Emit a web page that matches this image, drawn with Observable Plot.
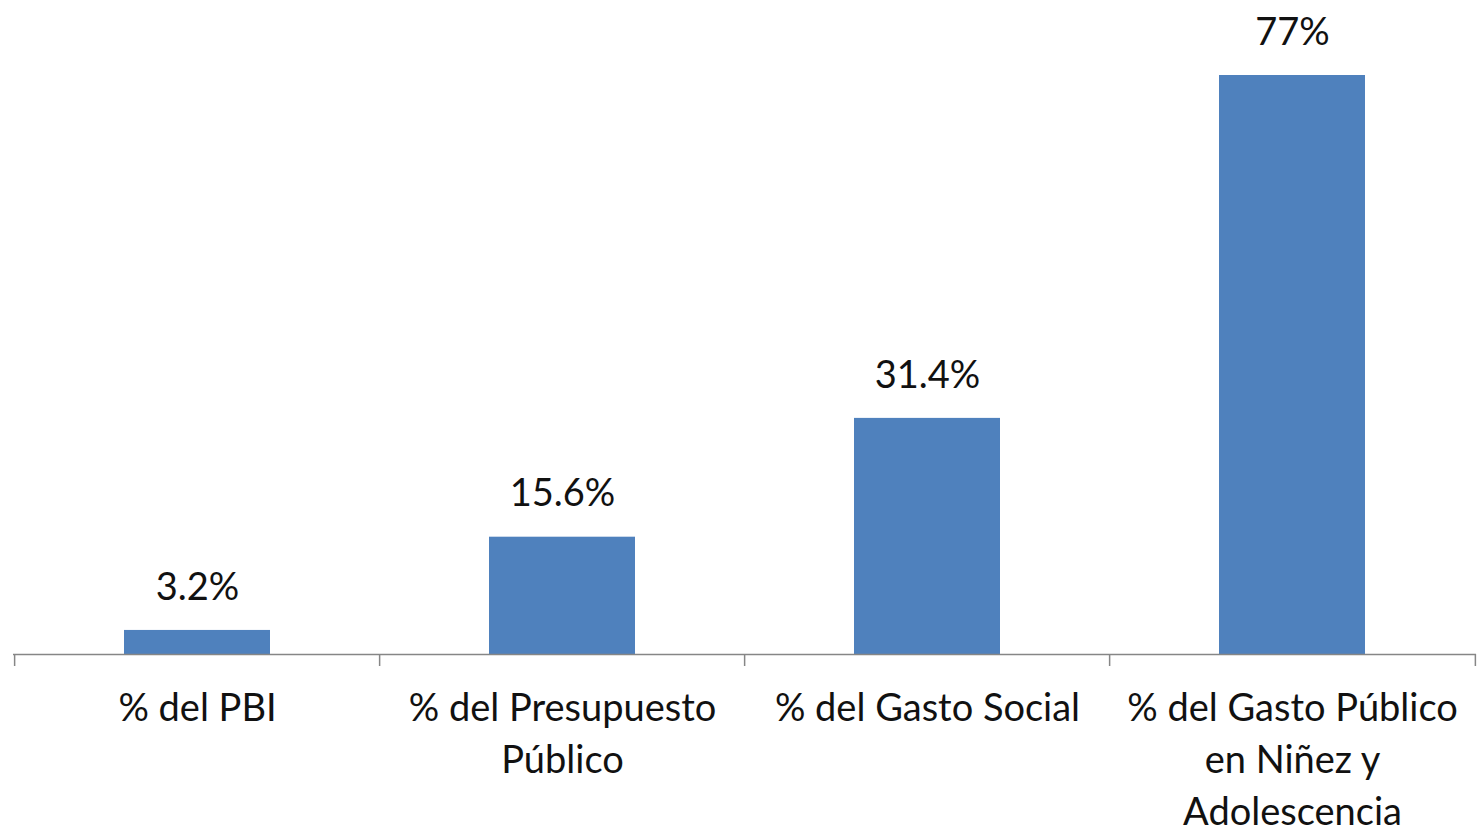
<!DOCTYPE html>
<html>
<head>
<meta charset="utf-8">
<script src="https://cdn.jsdelivr.net/npm/d3@7"></script>
<script src="https://cdn.jsdelivr.net/npm/@observablehq/plot@0.6"></script>
<style>
  html, body { margin: 0; padding: 0; background: #fff; }
  #chart svg { display: block; }
</style>
</head>
<body>
<div id="chart"></div>
<script>
const categories = ["% del PBI", "% del Presupuesto\nPúblico", "% del Gasto Social", "% del Gasto Público\nen Niñez y\nAdolescencia"];
const values = [3.2, 15.6, 31.4, 77];
const valueLabels = ["3.2%", "15.6%", "31.4%", "77%"];

const data = categories.map((c, i) => ({cat: c, value: values[i], label: valueLabels[i]}));

const W = 1477, H = 836;
const mL = 13, mR = 1, mT = 75, mB = 182;
const step = (W - mL - mR) / categories.length;
const font = "Lato, 'Open Sans', sans-serif";
const fs = 38;

const chart = Plot.plot({
  width: W,
  height: H,
  marginLeft: mL,
  marginRight: mR,
  marginTop: mT,
  marginBottom: mB,
  style: {fontFamily: font, background: "#fff"},
  x: {domain: categories, paddingInner: 0.6, paddingOuter: 0.3, axis: null},
  y: {domain: [0, d3.max(values)], axis: null},
  marks: [
    Plot.barY(data, {x: "cat", y: "value", fill: "#4F81BD"}),
    Plot.ruleY([0], {stroke: "#868686", strokeWidth: 1.5}),
    Plot.ruleX(data, {x: "cat", y1: 0, dx: -step / 2, insetBottom: -12, stroke: "#868686", strokeWidth: 1.5}),
    Plot.ruleX(data.slice(-1), {x: "cat", y1: 0, dx: step / 2, insetBottom: -12, stroke: "#868686", strokeWidth: 1.5}),
    Plot.text(data, {x: "cat", y: "value", text: "label", dy: -43, lineAnchor: "middle", fontSize: fs, fill: "#111"}),
    Plot.text(data, {x: "cat", y: 0, text: "cat", dy: 30, lineAnchor: "top", lineHeight: 52 / fs, fontSize: fs, fill: "#111"})
  ]
});
document.getElementById("chart").appendChild(chart);
</script>
</body>
</html>
